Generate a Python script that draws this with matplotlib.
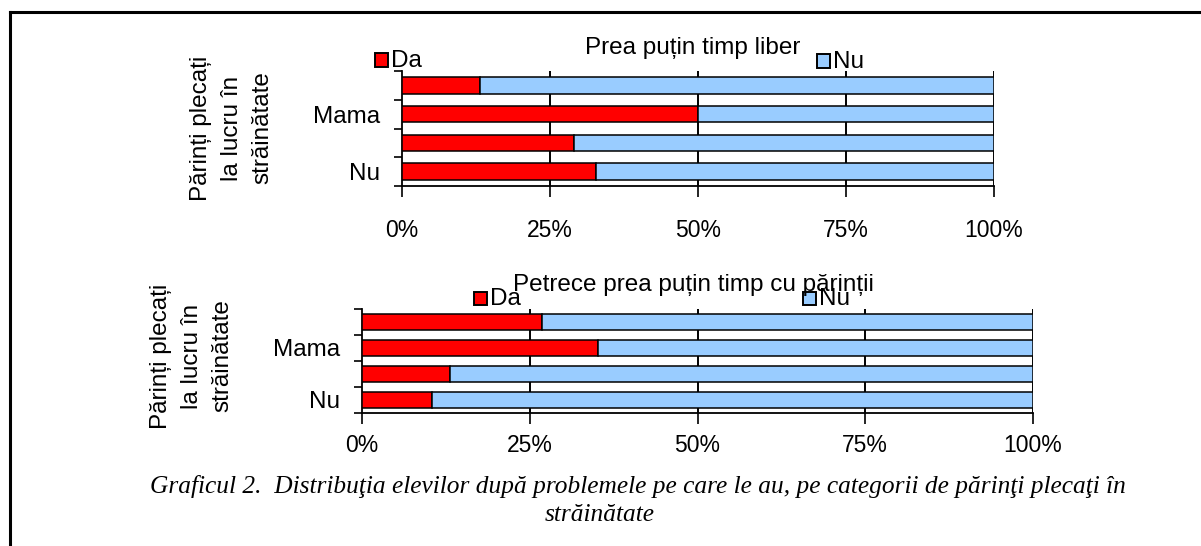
import matplotlib
matplotlib.use("Agg")
import matplotlib.pyplot as plt
from matplotlib.patches import Rectangle
from matplotlib.lines import Line2D

W, H = 1201, 546

# category labels, bottom -> top (only every other one is printed)
categories = ["Nu", "", "Mama", ""]
ticks_pct = [0, 25, 50, 75, 100]

title_top = "Prea puțin timp liber"
da_top = [32.8, 29.0, 50.0, 13.1]
nu_top = [100 - v for v in da_top]

title_bot = "Petrece prea puțin timp cu părinții"
da_bot = [10.4, 13.1, 35.2, 26.9]
nu_bot = [100 - v for v in da_bot]

ylabel = "Părinți plecați\nla lucru în\nstrăinătate"
caption1 = "Graficul 2.  Distribuţia elevilor după problemele pe care le au, pe categorii de părinţi plecaţi în"
caption2 = "străinătate"

RED = "#ff0000"
BLUE = "#99ccff"
SANS = "Liberation Sans"
SERIF = "Liberation Serif"
FS = 17.5      # labels / titles
FS_TICK = 16.5

plt.rcParams["font.family"] = [SANS, "DejaVu Sans"]

fig = plt.figure(figsize=(W / 100, H / 100), dpi=100)


def fx(x):
    return x / W


def fy(y):
    return 1 - y / H


def panel(left, right, top, bottom, da, nu, barh, pad_x):
    ax = fig.add_axes([fx(left), fy(bottom), fx(right - left), (bottom - top) / H])
    ys = range(len(categories))
    ax.barh(ys, da, barh, color=RED, edgecolor="black", lw=1.1, zorder=3)
    ax.barh(ys, nu, barh, left=da, color=BLUE, edgecolor="black", lw=1.1, zorder=3)
    ax.set_xlim(0, 100)
    ax.set_ylim(-0.5, len(categories) - 0.5)
    for t in ticks_pct[1:]:
        ax.axvline(t, color="black", lw=1.4, zorder=1)
    ax.set_xticks(ticks_pct)
    ax.set_xticklabels([f"{t}%" for t in ticks_pct], fontsize=FS_TICK)
    ax.tick_params(axis="x", direction="out", length=8, width=1.2, pad=pad_x)
    ax.set_yticks([k - 0.5 for k in range(len(categories) + 1)])
    ax.set_yticklabels([])
    ax.tick_params(axis="y", which="major", direction="out", length=6, width=1.2)
    ax.set_yticks(list(ys), minor=True)
    ax.set_yticklabels(categories, minor=True, fontsize=FS)
    ax.tick_params(axis="y", which="minor", length=0, pad=16)
    for s in ("top", "right"):
        ax.spines[s].set_visible(False)
    for s in ("left", "bottom"):
        ax.spines[s].set_linewidth(1.3)
    return ax


panel(402, 994, 71, 186, da_top, nu_top, 0.57, 16)
panel(362, 1033, 309, 413, da_bot, nu_bot, 0.62, 7)

# axis labels (3-line rotated)
fig.text(fx(232), fy(128), ylabel, rotation=90, ha="center", va="center",
         multialignment="center", fontsize=FS, linespacing=1.5)
fig.text(fx(192), fy(356), ylabel, rotation=90, ha="center", va="center",
         multialignment="center", fontsize=FS, linespacing=1.5)

# titles
fig.text(fx(693), fy(48), title_top, ha="center", va="center", fontsize=FS)
fig.text(fx(693), fy(285), title_bot, ha="center", va="center", fontsize=FS)


def legend_item(x, y, color, label):
    s = 13
    fig.add_artist(Rectangle((fx(x), fy(y + s / 2)), s / W, s / H, transform=fig.transFigure,
                             facecolor=color, edgecolor="black", lw=1.4))
    fig.text(fx(x + s + 3), fy(y + 1), label, ha="left", va="center", fontsize=FS)


legend_item(375, 60, RED, "Da")
legend_item(817, 61, BLUE, "Nu")
legend_item(474, 298, RED, "Da")
legend_item(803, 298, BLUE, "Nu")

# caption
fig.text(fx(638), fy(487), caption1, ha="center", va="center", fontsize=18.3,
         family=SERIF, style="italic")
fig.text(fx(600), fy(515), caption2, ha="center", va="center", fontsize=18.3,
         family=SERIF, style="italic")

# frame (top and left edges)
fig.add_artist(Line2D([fx(10), 1], [fy(12), fy(12)], transform=fig.transFigure, color="black", lw=2.2))
fig.add_artist(Line2D([fx(10), fx(10)], [0, fy(12)], transform=fig.transFigure, color="black", lw=2.2))

fig.savefig("out.png", dpi=100)
